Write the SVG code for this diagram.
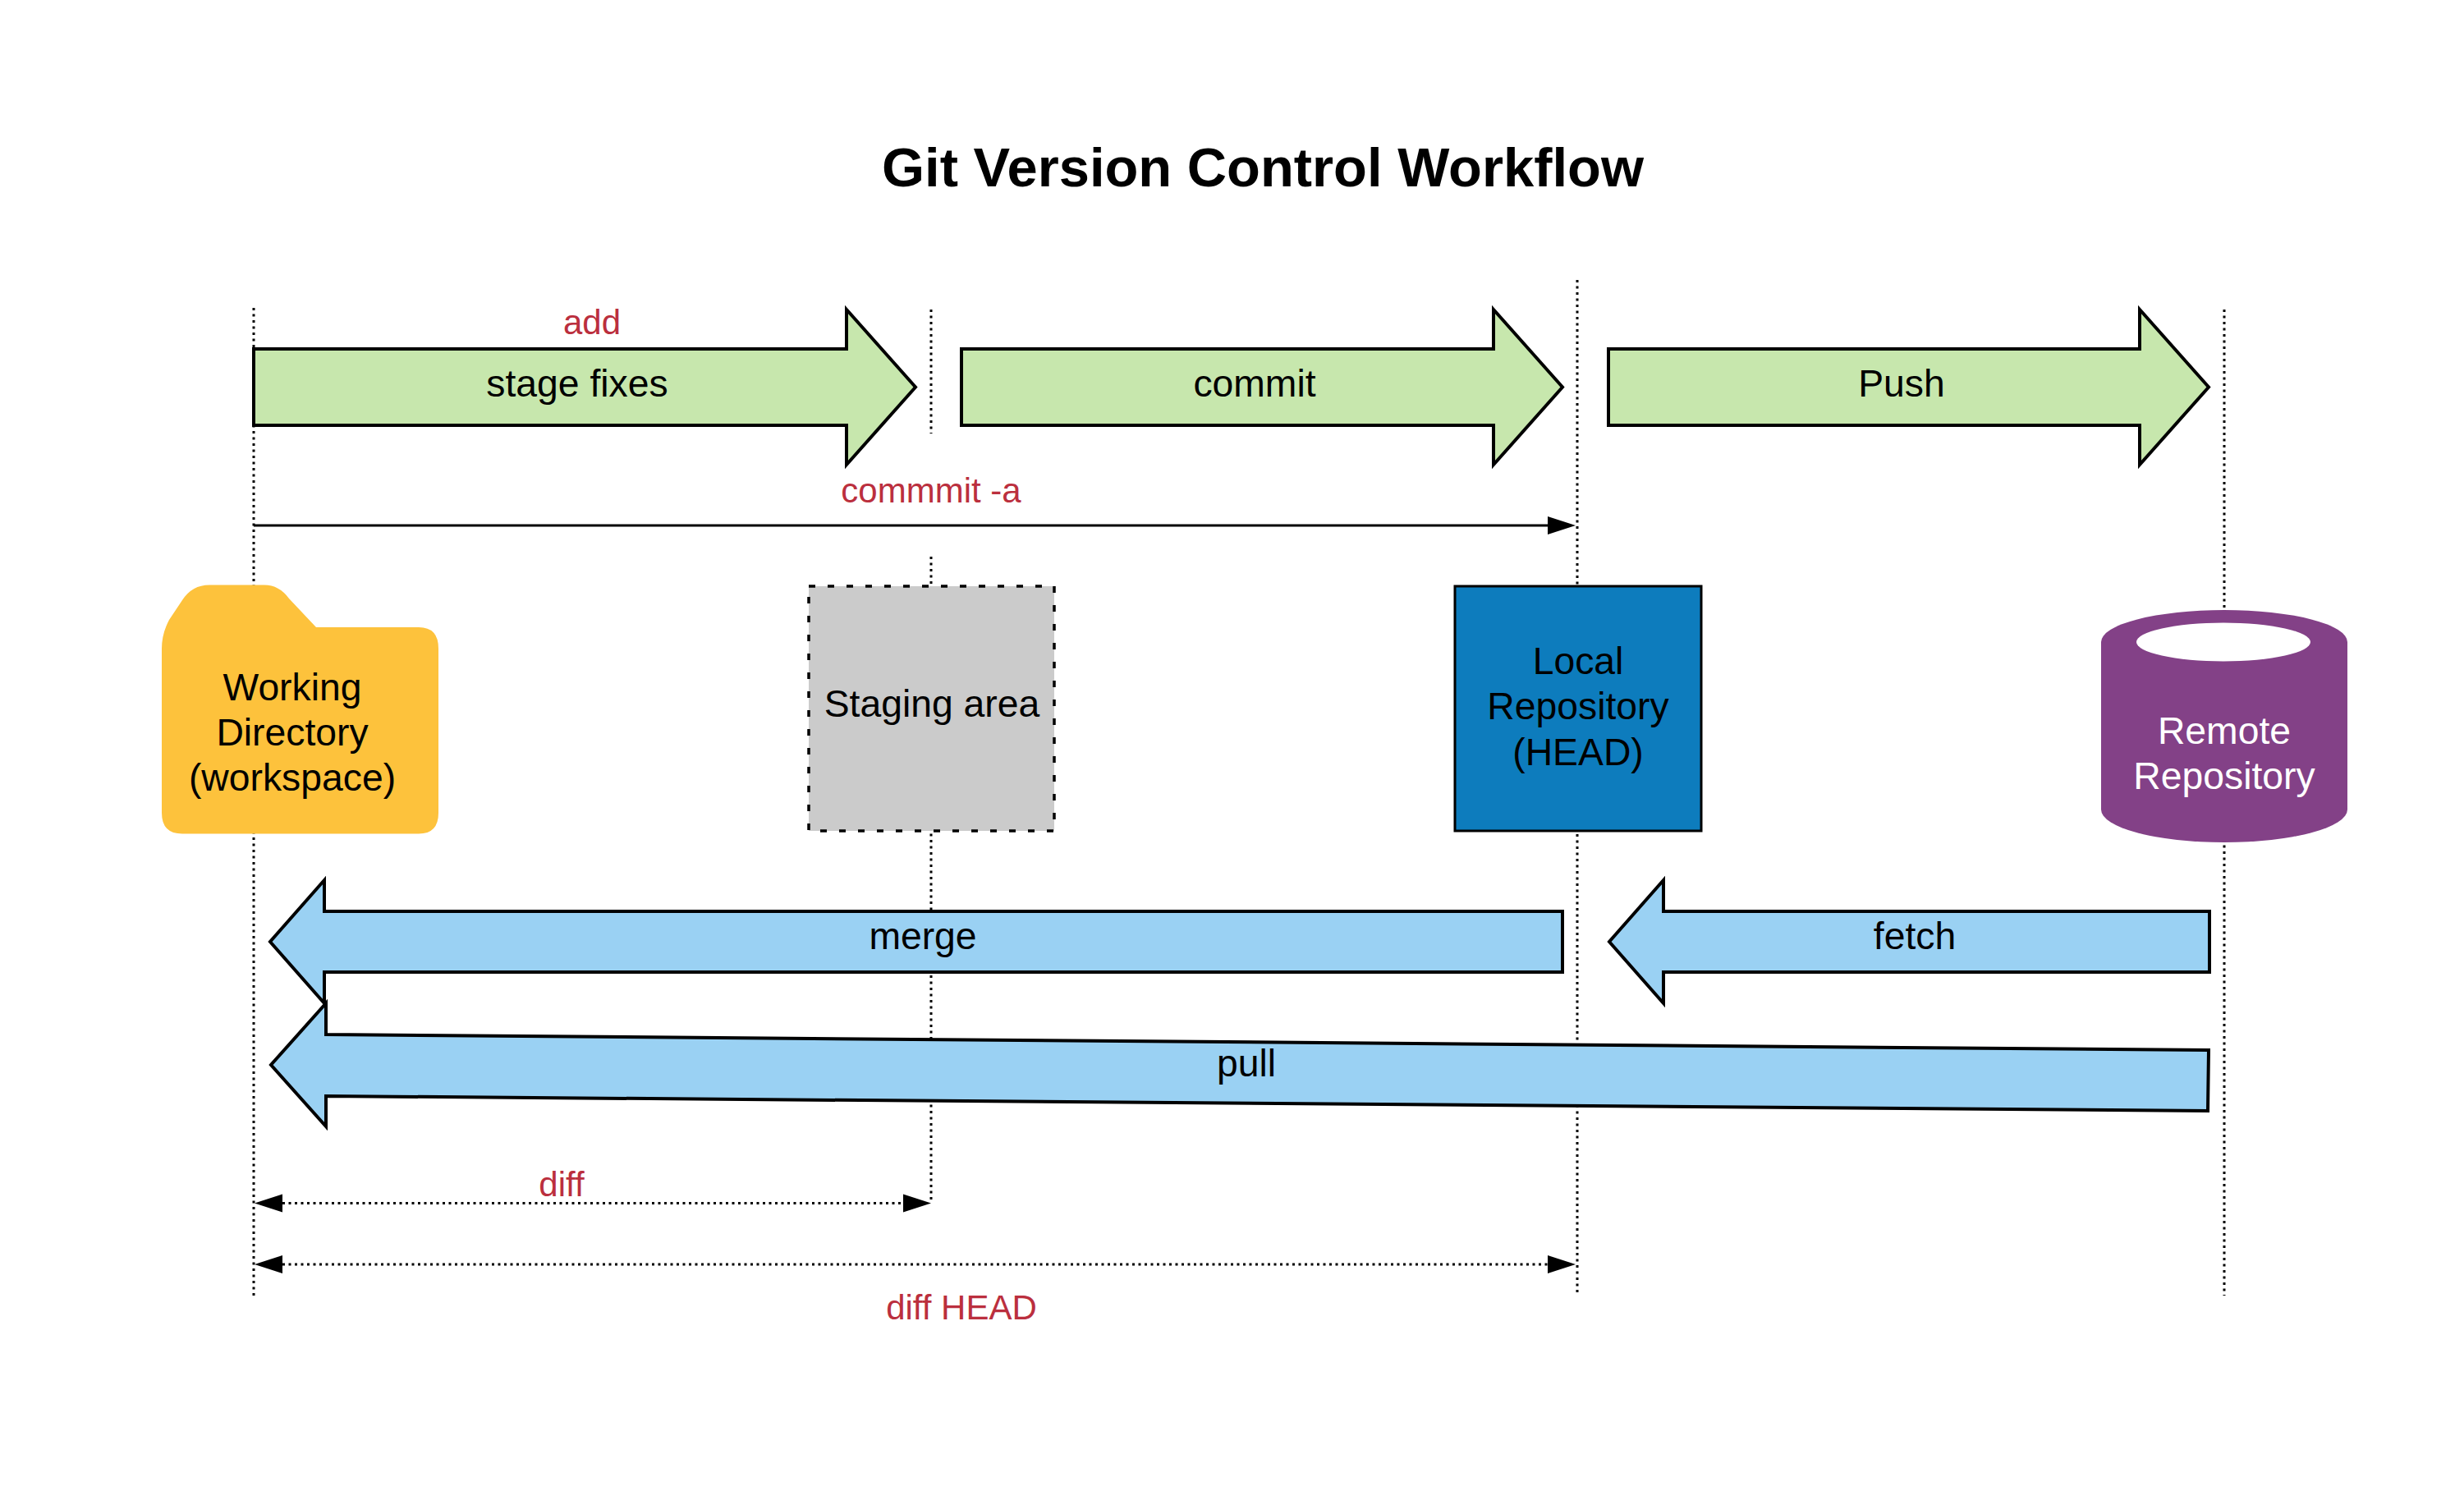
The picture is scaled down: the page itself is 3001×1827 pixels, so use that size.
<svg xmlns="http://www.w3.org/2000/svg" width="3001" height="1827" viewBox="0 0 3001 1827">
<style>
text{font-family:"Liberation Sans",Arial,sans-serif;font-size:46.3px;fill:#000;text-anchor:middle}
.title{font-size:66.9px;font-weight:bold}
.lbl{font-size:42px;fill:#bb2f3e}
.life{stroke:#000;stroke-width:3;stroke-dasharray:3 4.5;fill:none}
.dim{stroke:#000;stroke-width:3;stroke-dasharray:3 4.5;fill:none;marker-start:url(#tri);marker-end:url(#tri)}
.solid{stroke:#000;stroke-width:3;fill:none;marker-end:url(#tri)}
.green{fill:#c7e7ad;stroke:#000;stroke-width:4}
.blue{fill:#9ad1f3;stroke:#000;stroke-width:4}
</style>
<defs>
<marker id="tri" markerUnits="userSpaceOnUse" markerWidth="36" markerHeight="24" refX="0" refY="12" orient="auto-start-reverse"><path d="M0,1 L34,12 L0,23 Z" fill="#000"/></marker>
</defs>
<rect width="3001" height="1827" fill="#fff"/>
<text class="title" x="1538" y="227">Git Version Control Workflow</text>
<g id="connectors">
<path class="life" d="M309,375V1578"/>
<path class="life" d="M1134,377V528"/>
<path class="life" d="M1134,678V1465"/>
<path class="life" d="M1921,341V1578"/>
<path class="life" d="M2709,377V1578"/>
<path class="solid" d="M309,640H1885"/>
<path class="dim" d="M344,1465.5H1100"/>
<path class="dim" d="M344,1540H1885"/>
<text class="lbl" x="721" y="407">add</text>
<text class="lbl" x="1134" y="612">commmit -a</text>
<text class="lbl" x="684" y="1457">diff</text>
<text class="lbl" x="1171" y="1607">diff HEAD</text>
</g>
<g id="stage-fixes">
<path class="green" d="M309,425H1031V377L1115,471.5L1031,566V518H309Z"/>
<text x="703" y="483">stage fixes</text>
</g>
<g id="commit">
<path class="green" d="M1171,425H1819V377L1903,471.5L1819,566V518H1171Z"/>
<text x="1528" y="483">commit</text>
</g>
<g id="push">
<path class="green" d="M1959,425H2606V377L2690,471.5L2606,566V518H1959Z"/>
<text x="2316" y="483">Push</text>
</g>
<g id="working-directory">
<path fill="#fdc23c" d="M197,790Q197,772 206,755L222,731Q234,712.5 255,712.5L322,712.5Q340,712.5 352,729L385,764L510,764Q534,764 534,790L534,990Q534,1015.5 510,1015.5L222,1015.5Q197,1015.5 197,990Z"/>
<text x="356" y="853">Working</text>
<text x="356" y="908">Directory</text>
<text x="356" y="963">(workspace)</text>
</g>
<g id="staging-area">
<rect x="985" y="714" width="299" height="298" fill="#cbcbcb" stroke="#000" stroke-width="3.5" stroke-dasharray="8 15"/>
<text x="1135" y="873">Staging area</text>
</g>
<g id="local-repository">
<rect x="1772" y="714" width="300" height="298" fill="#0d7cbd" stroke="#000" stroke-width="3"/>
<text x="1922" y="821">Local</text>
<text x="1922" y="876">Repository</text>
<text x="1922" y="932">(HEAD)</text>
</g>
<g id="remote-repository">
<path fill="#834187" d="M2559,782A150,39 0 0 1 2859,782L2859,986A150,40 0 0 1 2559,986Z"/>
<ellipse cx="2708" cy="782" rx="106" ry="23.5" fill="#fff"/>
<text x="2709" y="906" style="fill:#fff">Remote</text>
<text x="2709" y="961" style="fill:#fff">Repository</text>
</g>
<g id="merge">
<path class="blue" d="M1903,1110H395V1072L329,1147L395,1222V1184H1903Z"/>
<text x="1124" y="1156">merge</text>
</g>
<g id="fetch">
<path class="blue" d="M2691,1110H2026V1072L1960,1147L2026,1222V1184H2691Z"/>
<text x="2332" y="1156">fetch</text>
</g>
<g id="pull">
<path class="blue" d="M2690,1279L397,1260V1222L330,1297L397,1372V1335L2689,1353Z"/>
<text x="1518" y="1311">pull</text>
</g>
</svg>
